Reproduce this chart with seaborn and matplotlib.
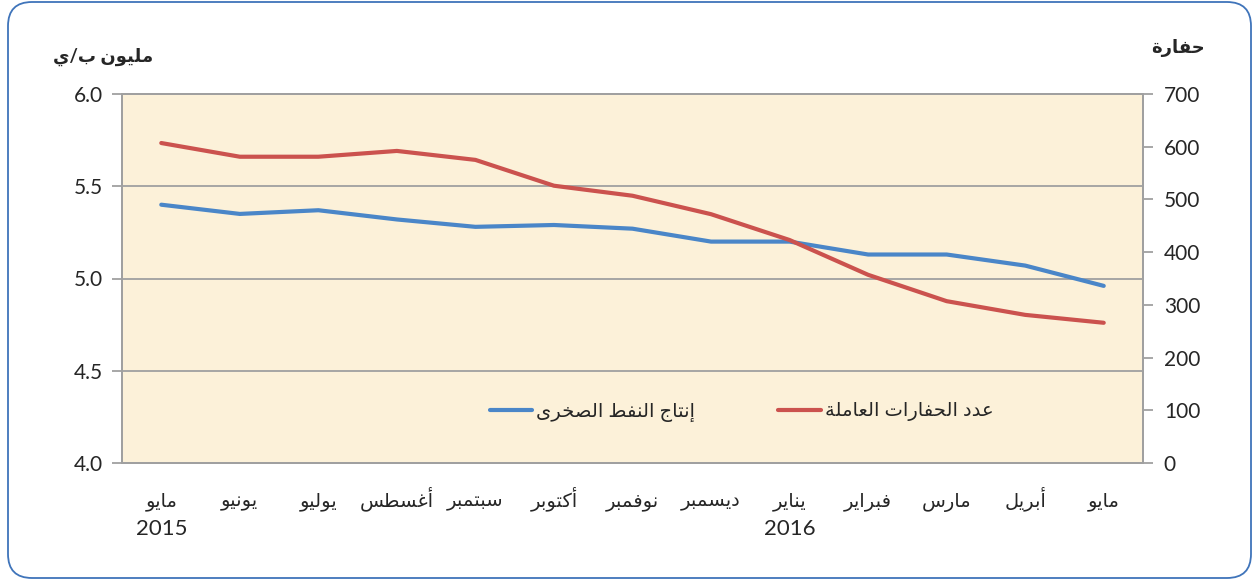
import matplotlib
matplotlib.use("Agg")
import matplotlib.pyplot as plt
from matplotlib.patches import FancyBboxPatch
from matplotlib.lines import Line2D
from matplotlib.transforms import IdentityTransform
import seaborn as sns
import pandas as pd

# data
months = ["مايو", "يونيو", "يوليو", "أغسطس", "سبتمبر", "أكتوبر", "نوفمبر",
          "ديسمبر", "يناير", "فبراير", "مارس", "أبريل", "مايو"]
years = ["2015", "2016"]
year_at = [0, 8]
shale_output = [5.40, 5.35, 5.37, 5.32, 5.28, 5.29, 5.27, 5.20, 5.20, 5.13, 5.13, 5.07, 4.96]
rig_count = [607, 581, 581, 592, 575, 526, 507, 472, 423, 357, 307, 281, 266]
left_ticks = [4.0, 4.5, 5.0, 5.5, 6.0]
right_ticks = [0, 100, 200, 300, 400, 500, 600, 700]
label_output = "إنتاج النفط الصخرى"
label_rigs = "عدد الحفارات العاملة"
title_left = "مليون ب/ي"
title_right = "حفارة"

# matplotlib has no Arabic shaping: pick presentation forms and reverse by hand
AR_FORMS = {
    "ا": 0xFE8D, "أ": 0xFE83, "إ": 0xFE87, "ب": 0xFE8F, "ة": 0xFE93, "ت": 0xFE95,
    "ج": 0xFE9D, "ح": 0xFEA1, "خ": 0xFEA5, "د": 0xFEA9, "ر": 0xFEAD, "س": 0xFEB1,
    "ص": 0xFEB9, "ط": 0xFEC1, "ع": 0xFEC9, "غ": 0xFECD, "ف": 0xFED1, "ك": 0xFED9,
    "ل": 0xFEDD, "م": 0xFEE1, "ن": 0xFEE5, "و": 0xFEED, "ى": 0xFEEF, "ي": 0xFEF1,
}
RIGHT_ONLY = set("اأإةدروى")


def ar(text):
    out = []
    for i, ch in enumerate(text):
        if ch not in AR_FORMS:
            out.append(ch)
            continue
        prev = text[i - 1] if i > 0 else ""
        nxt = text[i + 1] if i + 1 < len(text) else ""
        join_prev = prev in AR_FORMS and prev not in RIGHT_ONLY
        join_next = ch not in RIGHT_ONLY and nxt in AR_FORMS
        if join_prev and join_next:
            off = 3
        elif join_prev:
            off = 1
        elif join_next:
            off = 2
        else:
            off = 0
        out.append(chr(AR_FORMS[ch] + off))
    return "".join(reversed(out))


sns.set_style("white")
plt.rcParams["font.family"] = ["Lato", "DejaVu Sans"]

blue = "#4A86C8"
red = "#CB524E"
grey = "#A0A0A0"

df = pd.DataFrame({"month": range(len(months)), "output": shale_output, "rigs": rig_count})

fig = plt.figure(figsize=(12.54, 5.8), dpi=100)
ax = fig.add_axes([122 / 1254, 117 / 580, 1021 / 1254, 369 / 580])
ax.set_facecolor("#FCF1D9")

sns.lineplot(data=df, x="month", y="output", ax=ax, color=blue, linewidth=3.0)
ax2 = ax.twinx()
sns.lineplot(data=df, x="month", y="rigs", ax=ax2, color=red, linewidth=3.0)

ax.set_xlim(-0.5, len(months) - 0.5)
ax.set_ylim(4.0, 6.0)
ax2.set_ylim(0, 700)
ax.set_yticks(left_ticks)
ax.set_yticklabels([f"{v:.1f}" for v in left_ticks])
ax2.set_yticks(right_ticks)
ax2.set_yticklabels([str(v) for v in right_ticks])

# category labels between boundary tick marks
ax.set_xticks([i - 0.5 for i in range(len(months) + 1)])
ax.set_xticklabels([])
ax.set_xticks(range(len(months)), minor=True)
ax.set_xticklabels([ar(m) for m in months], minor=True, fontsize=14, va="baseline")
ax.tick_params(axis="x", which="minor", length=0, pad=31.5)
ax.tick_params(axis="x", which="major", length=7, width=1.3, color=grey, direction="out")
ax.tick_params(axis="y", length=7, width=1.3, color=grey, labelsize=15, pad=7, direction="out")
ax2.tick_params(axis="y", length=7, width=1.3, color=grey, labelsize=15, pad=8, direction="out")
for pos, yr in zip(year_at, years):
    ax.text(pos, -0.195, yr, transform=ax.get_xaxis_transform(), ha="center",
            va="baseline", fontsize=16)
ax.set_xlabel("")
ax.set_ylabel("")
ax2.set_ylabel("")

ax.grid(axis="y", color=grey, linewidth=1.3)
ax.grid(axis="x", visible=False)
for a in (ax, ax2):
    for s in a.spines.values():
        s.set_color(grey)
        s.set_linewidth(1.3)
ax.set_axisbelow(True)

fig.text(153 / 1254, 1 - 57 / 580, ar(title_left), ha="right", va="center",
         fontsize=13, fontweight="bold")
fig.text(1205 / 1254, 1 - 48 / 580, ar(title_right), ha="right", va="center",
         fontsize=13, fontweight="bold")

handles = [Line2D([], [], color=blue, linewidth=3.0), Line2D([], [], color=red, linewidth=3.0)]
ax2.legend(handles, [ar(label_output), ar(label_rigs)], loc="center left",
           bbox_to_anchor=(0.36, 0.138), ncol=2, frameon=False, fontsize=14,
           handlelength=2.2, handletextpad=0.2, columnspacing=4.25,
           borderpad=0, borderaxespad=0)

fig.patches.append(FancyBboxPatch((8, 2), 1243, 576, boxstyle="round,pad=0,rounding_size=24",
                                  transform=IdentityTransform(), facecolor="none",
                                  edgecolor="#3F74BA", linewidth=1.3))

fig.savefig("out.png", dpi=100)
